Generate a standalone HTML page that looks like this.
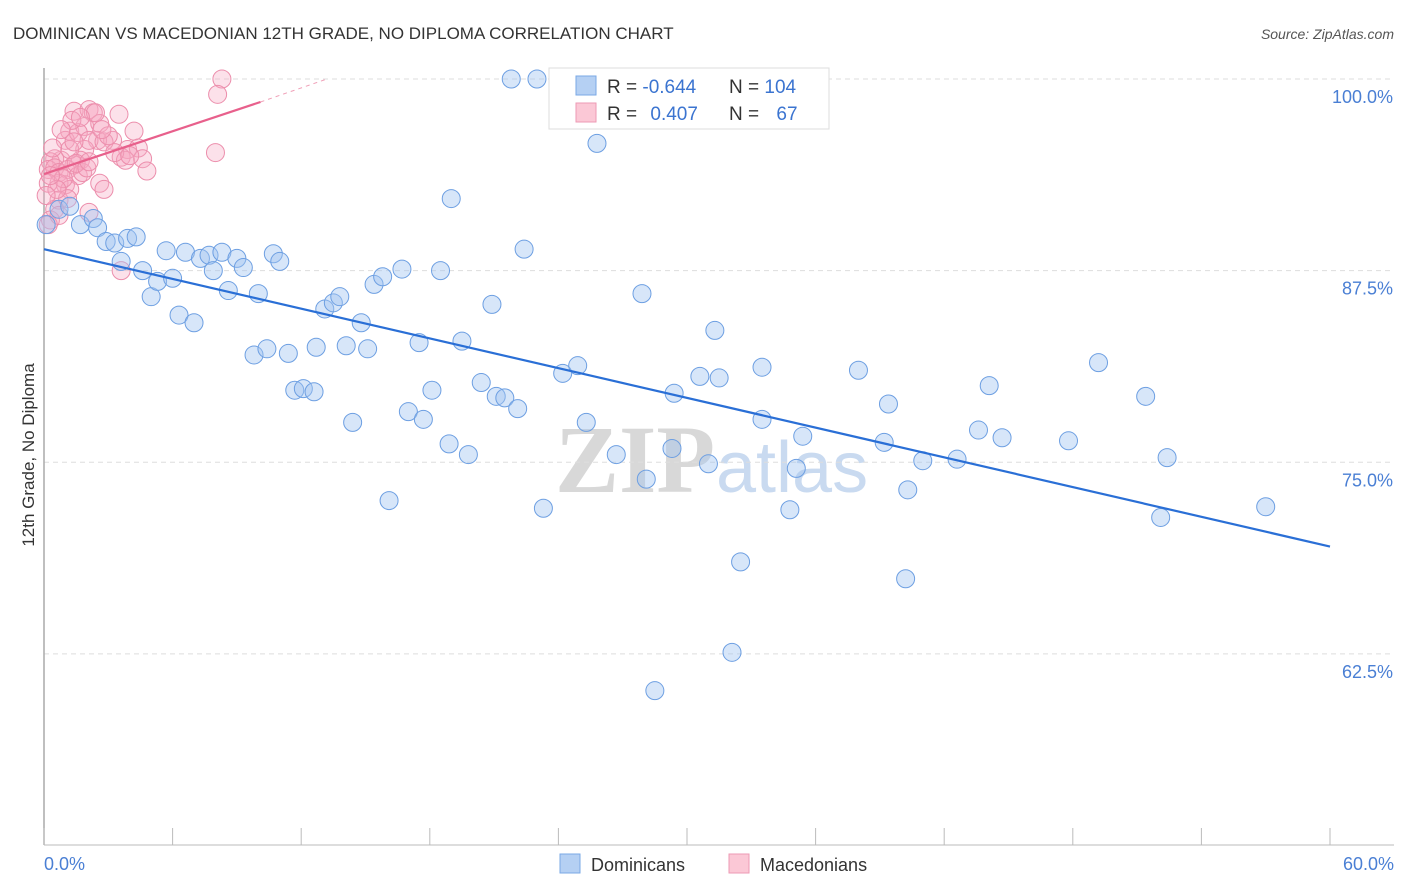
<!DOCTYPE html>
<html><head><meta charset="utf-8">
<style>
body{margin:0;background:#fff;font-family:"Liberation Sans",sans-serif;}
#wrap{position:relative;width:1406px;height:892px;overflow:hidden;}
</style></head>
<body>
<div id="wrap">
<svg id="svg" width="1406" height="892" xmlns="http://www.w3.org/2000/svg">
<text x="13" y="39" font-size="17" fill="#333">DOMINICAN VS MACEDONIAN 12TH GRADE, NO DIPLOMA CORRELATION CHART</text>
<text x="1394" y="39" font-size="14" fill="#555" font-style="italic" text-anchor="end">Source: ZipAtlas.com</text>
<g>
<text x="555" y="492" font-size="96" font-family="Liberation Serif,serif" font-weight="bold" fill="#d8d8d8">ZIP</text>
<text x="716" y="492" font-size="72" fill="#c9daf0">atlas</text>
</g>
<g id="grid"></g>
<g id="pts"></g>
<g id="lines"></g>
<text transform="translate(34,455) rotate(-90)" font-size="17" fill="#333" text-anchor="middle">12th Grade, No Diploma</text>
<g>
<rect x="549" y="68" width="280" height="61" fill="#fff" stroke="#ddd"/>
<rect x="576" y="76" width="20" height="19" fill="#b5d0f3" stroke="#7aa8e6"/>
<rect x="576" y="103" width="20" height="19" fill="#fbc8d6" stroke="#ee9ab4"/>
<text x="607" y="93" font-size="19" fill="#333">R = <tspan fill="#3b74d0">-0.644</tspan></text>
<text x="729" y="93" font-size="19" fill="#333">N = <tspan fill="#3b74d0">104</tspan></text>
<text x="607" y="120" font-size="19" fill="#333">R = <tspan fill="#3b74d0" dx="8">0.407</tspan></text>
<text x="729" y="120" font-size="19" fill="#333">N = <tspan fill="#3b74d0" dx="12">67</tspan></text>
</g>
<g>
<rect x="560" y="854" width="20" height="19" fill="#b5d0f3" stroke="#7aa8e6"/>
<text x="591" y="871" font-size="18" fill="#333">Dominicans</text>
<rect x="729" y="854" width="20" height="19" fill="#fbc8d6" stroke="#ee9ab4"/>
<text x="760" y="871" font-size="18" fill="#333">Macedonians</text>
</g>
</svg>
</div>
<script>
const yTicks=[100,87.5,75,62.5];
const yTickLabels=["100.0%","87.5%","75.0%","62.5%"];
const xTickLabels=["0.0%","60.0%"];
const blueX=[21.8,23.0,25.8,19.0,22.4,0.1,0.7,1.2,1.7,2.3,2.5,2.9,3.3,3.9,4.3,3.6,4.6,5.0,5.3,5.7,6.0,6.3,6.6,7.0,7.3,7.7,7.9,8.3,8.6,9.0,9.3,9.8,10.0,10.4,10.7,11.0,11.4,11.7,12.1,12.6,12.7,13.1,13.5,13.8,14.1,14.4,14.8,15.1,15.4,15.8,16.1,16.7,17.0,17.5,17.7,18.1,18.5,18.9,19.5,19.8,20.4,20.9,21.1,21.5,22.1,23.3,24.2,24.9,25.3,26.7,27.9,28.1,29.3,29.4,30.6,31.0,31.3,31.5,32.1,32.5,33.5,33.5,34.8,35.1,35.4,38.0,39.2,39.4,40.2,40.3,41.0,42.6,43.6,44.1,44.7,47.8,49.2,51.4,52.1,52.4,57.0,28.5];
const blueY=[100.0,100.0,95.8,92.2,88.9,90.5,91.5,91.7,90.5,90.9,90.3,89.4,89.3,89.6,89.7,88.1,87.5,85.8,86.8,88.8,87.0,84.6,88.7,84.1,88.3,88.5,87.5,88.7,86.2,88.3,87.7,82.0,86.0,82.4,88.6,88.1,82.1,79.7,79.8,79.6,82.5,85.0,85.4,85.8,82.6,77.6,84.1,82.4,86.6,87.1,72.5,87.6,78.3,82.8,77.8,79.7,87.5,76.2,82.9,75.5,80.2,85.3,79.3,79.2,78.5,72.0,80.8,81.3,77.6,75.5,86.0,73.9,75.9,79.5,80.6,74.9,83.6,80.5,62.6,68.5,81.2,77.8,71.9,74.6,76.7,81.0,76.3,78.8,67.4,73.2,75.1,75.2,77.1,80.0,76.6,76.4,81.5,79.3,71.4,75.3,72.1,60.1];
const pinkX=[8.3,8.1,8.0,1.4,2.1,2.3,3.5,1.2,1.9,2.6,4.2,3.2,3.9,2.5,4.4,3.6,3.8,4.6,4.8,1.9,1.7,1.4,0.8,0.5,0.3,0.2,0.5,0.7,1.1,1.6,1.8,1.0,0.7,0.2,1.2,2.6,2.8,0.7,1.1,2.1,0.5,0.3,0.2,3.6,0.7,1.0,1.6,1.2,0.4,2.1,2.8,1.3,2.4,3.3,4.0,1.5,2.0,0.9,0.6,0.1,3.0,1.7,0.8,1.4,0.3,2.1,2.7];
const pinkY=[100.0,99.0,95.2,97.9,98.0,97.8,97.7,96.6,96.9,97.1,96.6,96.0,95.4,96.0,95.5,94.9,94.7,94.8,94.0,95.4,94.7,94.4,94.7,94.8,94.6,94.1,94.2,93.9,94.1,93.7,93.9,93.1,93.2,93.2,92.8,93.2,92.8,92.1,92.2,91.3,91.5,90.8,90.5,87.5,91.1,96.0,96.5,95.4,95.5,96.0,95.9,97.3,97.8,95.2,95.0,94.5,94.2,93.5,92.8,92.4,96.3,97.5,96.7,95.9,93.7,94.6,96.7];
const blueTrendX=[0,60];
const blueTrendY=[88.9,69.5];
const pinkTrendX=[0,10.1];
const pinkTrendY=[93.8,98.5];
const pinkDashX=[10.1,13.2];
const pinkDashY=[98.5,100.0];

const NS="http://www.w3.org/2000/svg";
const X0=44,X1=1330,Y100=79,PXPCT=15.33;
function sx(v){return X0+(v/60)*(X1-X0);}
function sy(v){return Y100+(100-v)*PXPCT;}
function mk(tag,attrs,parent){const e=document.createElementNS(NS,tag);for(const k in attrs)e.setAttribute(k,attrs[k]);parent.appendChild(e);return e;}
const grid=document.getElementById('grid');
yTicks.forEach((t,i)=>{
  const l=mk('line',{x1:X0,x2:1394,y1:sy(t),y2:sy(t),stroke:'#ddd','stroke-dasharray':'5,4'},grid);
  
  
  const tx=mk('text',{x:1393,y:sy(t)+24,'font-size':18,fill:'#4a7fd4','text-anchor':'end'},grid);
  tx.textContent=yTickLabels[i];
  
  
});
const ax=mk('line',{x1:X0,x2:X0,y1:68,y2:845,stroke:'#aaa','stroke-width':1.5},grid);


const bx=mk('line',{x1:X0,x2:1394,y1:845,y2:845,stroke:'#bbb','stroke-width':1},grid);


for(let i=0;i<=10;i++){
  const t=mk('line',{x1:sx(i*6),x2:sx(i*6),y1:828,y2:845,stroke:'#bbb'},grid);
  
  
}
[[0,'start',44],[60,'end',1394]].forEach((d,i)=>{
  const tx=mk('text',{x:d[2],y:870,'font-size':18,fill:'#4a7fd4','text-anchor':d[1]},grid);
  tx.textContent=xTickLabels[i];
  
  
});
const pts=document.getElementById('pts');
pinkX.forEach((x,i)=>{
  const c=mk('circle',{cx:sx(x),cy:sy(pinkY[i]),r:9,fill:'rgba(246,170,194,0.35)',stroke:'#ec8eac','stroke-width':1},pts);
  
  
});
blueX.forEach((x,i)=>{
  const c=mk('circle',{cx:sx(x),cy:sy(blueY[i]),r:9,fill:'rgba(160,196,240,0.42)',stroke:'#6d9fe2','stroke-width':1},pts);
  
  
});
const lines=document.getElementById('lines');
const bl=mk('line',{x1:sx(blueTrendX[0]),y1:sy(blueTrendY[0]),x2:sx(blueTrendX[1]),y2:sy(blueTrendY[1]),stroke:'#2a6fd6','stroke-width':2.2},lines);


const pl=mk('line',{x1:sx(pinkTrendX[0]),y1:sy(pinkTrendY[0]),x2:sx(pinkTrendX[1]),y2:sy(pinkTrendY[1]),stroke:'#e8608c','stroke-width':2.2},lines);


const pd=mk('line',{x1:sx(pinkDashX[0]),y1:sy(pinkDashY[0]),x2:sx(pinkDashX[1]),y2:sy(pinkDashY[1]),stroke:'#f0a0b8','stroke-width':1,'stroke-dasharray':'4,4'},lines);


</script>
</body></html>
